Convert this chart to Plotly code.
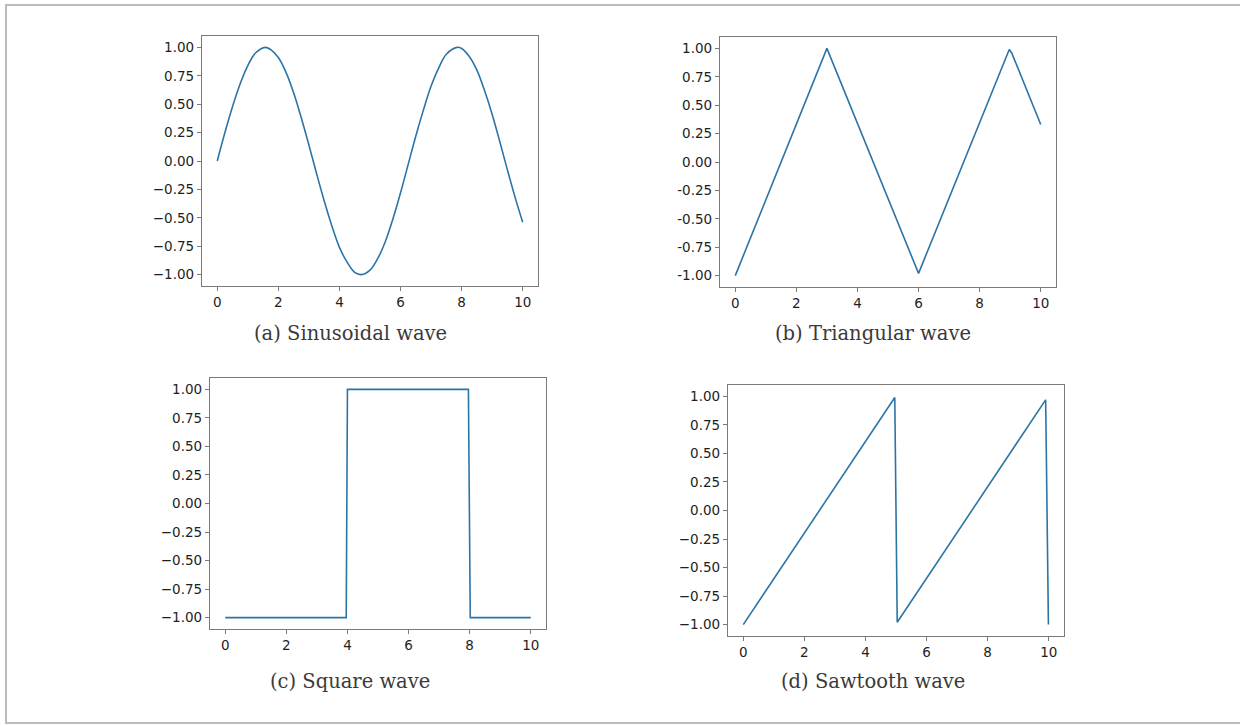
import plotly.graph_objects as go

W, H = 1240, 726

# ---- data -------------------------------------------------------------
sine_x = [0, 0.25, 0.5, 0.75, 1.0, 1.25, 1.57, 1.75, 2.0, 2.25, 2.5, 2.75, 3.0,
          3.25, 3.5, 3.75, 4.0, 4.25, 4.5, 4.71, 5.0, 5.25, 5.5, 5.75, 6.0,
          6.25, 6.5, 6.75, 7.0, 7.25, 7.5, 7.85, 8.0, 8.25, 8.5, 8.75, 9.0,
          9.25, 9.5, 9.75, 10.0]
sine_y = [0.0, 0.25, 0.48, 0.68, 0.84, 0.95, 1.0, 0.98, 0.91, 0.78, 0.6, 0.38,
          0.14, -0.11, -0.35, -0.57, -0.76, -0.89, -0.98, -1.0, -0.96, -0.86,
          -0.71, -0.51, -0.28, -0.03, 0.22, 0.45, 0.66, 0.82, 0.94, 1.0, 0.99,
          0.92, 0.8, 0.62, 0.41, 0.17, -0.08, -0.32, -0.54]

tri_x = [0, 3.0, 6.0, 8.97, 9.05, 10.0]
tri_y = [-1.0, 1.0, -0.98, 0.99, 0.96, 0.33]

sq_x = [0, 3.96, 4.0, 7.96, 8.02, 10.0]
sq_y = [-1.0, -1.0, 1.0, 1.0, -1.0, -1.0]

saw_x = [0, 4.96, 5.04, 9.9, 9.99]
saw_y = [-1.0, 0.99, -0.98, 0.97, -1.0]

x_ticks = [0, 2, 4, 6, 8, 10]
y_ticks = [1.0, 0.75, 0.5, 0.25, 0.0, -0.25, -0.5, -0.75, -1.0]
y_labels = ["1.00", "0.75", "0.50", "0.25", "0.00",
            "\u22120.25", "\u22120.50", "\u22120.75", "\u22121.00"]
y_labels_hyphen = ["1.00", "0.75", "0.50", "0.25", "0.00",
                   "-0.25", "-0.50", "-0.75", "-1.00"]

captions = ["(a) Sinusoidal wave", "(b) Triangular wave",
            "(c) Square wave", "(d) Sawtooth wave"]

# ---- layout of the four panels (pixel boxes: left, right, top, bottom) --
panels = [
    dict(x=sine_x, y=sine_y, box=(202, 538, 36, 286), ylab=y_labels,
         cap=(350, 333)),
    dict(x=tri_x, y=tri_y, box=(720, 1056, 37, 287), ylab=y_labels_hyphen,
         cap=(873, 333)),
    dict(x=sq_x, y=sq_y, box=(210, 546, 378, 629), ylab=y_labels,
         cap=(350, 681)),
    dict(x=saw_x, y=saw_y, box=(728, 1064, 385, 636), ylab=y_labels,
         cap=(873, 681)),
]

LINE = "#2c74a8"
FRAME = "#7a7a7a"
TICKFONT = dict(family="DejaVu Sans", size=13.5, color="#1e1e1e")

fig = go.Figure()
layout = dict(
    width=W, height=H, margin=dict(l=0, r=0, t=0, b=0),
    paper_bgcolor="white", plot_bgcolor="white", showlegend=False,
)

annotations = []
for i, p in enumerate(panels, start=1):
    xa = "x" if i == 1 else f"x{i}"
    ya = "y" if i == 1 else f"y{i}"
    fig.add_trace(go.Scatter(
        x=p["x"], y=p["y"], mode="lines", xaxis=xa, yaxis=ya,
        line=dict(color=LINE, width=1.6,
                  shape="spline" if i == 1 else "linear"),
        hoverinfo="skip",
    ))
    l, r, t, b = p["box"]
    axis_common = dict(
        showgrid=False, zeroline=False, showline=True, mirror=True,
        linecolor=FRAME, linewidth=1.3, ticks="outside", ticklen=4,
        tickwidth=1, tickcolor=FRAME, tickfont=TICKFONT,
    )
    layout["xaxis" if i == 1 else f"xaxis{i}"] = dict(
        axis_common, domain=[l / W, r / W], range=[-0.5, 10.5],
        tickvals=x_ticks, ticktext=[str(v) for v in x_ticks],
        anchor=ya,
    )
    layout["yaxis" if i == 1 else f"yaxis{i}"] = dict(
        axis_common, domain=[1 - b / H, 1 - t / H], range=[-1.1, 1.1],
        tickvals=y_ticks, ticktext=p["ylab"], anchor=xa,
    )
    cx, cy = p["cap"]
    annotations.append(dict(
        text=captions[i - 1], x=cx / W, y=1 - cy / H, xref="paper",
        yref="paper", xanchor="center", yanchor="middle", showarrow=False,
        font=dict(family="DejaVu Serif", size=19.5, color="#3a3a3a"),
    ))

layout["annotations"] = annotations
layout["shapes"] = [dict(
    type="rect", xref="paper", yref="paper",
    x0=6 / W, x1=1.01, y0=1 - 723 / H, y1=1 - 5 / H,
    line=dict(color="#bdbdbd", width=2), fillcolor="rgba(0,0,0,0)",
)]

fig.update_layout(**layout)
fig.write_html("out.html")
